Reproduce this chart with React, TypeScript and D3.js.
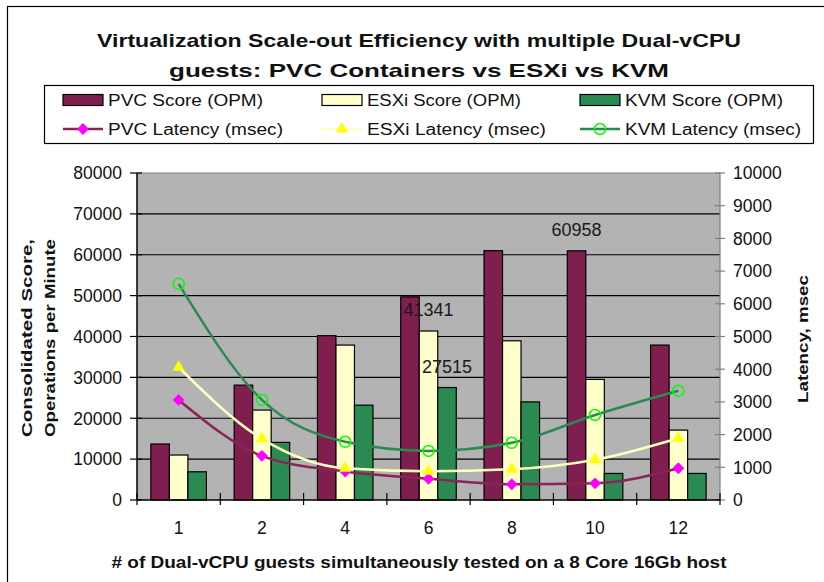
import React from "react"
import * as d3 from "d3"

const width = 824
const height = 582

const margin = { top: 173, right: 104, bottom: 82, left: 137 }

const categories = ["1", "2", "4", "6", "8", "10", "12"]
const pvcScore = [13700, 28100, 40200, 49700, 61000, 60958, 37900]
const esxiScore = [11000, 22000, 37900, 41341, 38950, 29500, 17100]
const kvmScore = [6900, 14100, 23200, 27515, 24000, 6500, 6500]
const pvcLatency = [3060, 1350, 870, 650, 480, 510, 970]
const esxiLatency = [4060, 1870, 970, 880, 940, 1230, 1890]
const kvmLatency = [6610, 3060, 1780, 1500, 1750, 2600, 3340]
const scoreTicks = [0, 10000, 20000, 30000, 40000, 50000, 60000, 70000, 80000]
const latencyTicks = [0, 1000, 2000, 3000, 4000, 5000, 6000, 7000, 8000, 9000, 10000]
// which bars carry a value label: [series index, category]
const labelledBars: [number, string][] = [[1, "6"], [2, "6"], [0, "10"]]

const barSeries = [
  { name: "PVC Score (OPM)", values: pvcScore, fill: "#801f4f" },
  { name: "ESXi Score (OPM)", values: esxiScore, fill: "#ffffcc" },
  { name: "KVM Score (OPM)", values: kvmScore, fill: "#2a8a52" },
]
const lineSeries = [
  { name: "PVC Latency (msec)", values: pvcLatency, stroke: "#8a2458", marker: "diamond" },
  { name: "ESXi Latency (msec)", values: esxiLatency, stroke: "#ffffc0", marker: "triangle" },
  { name: "KVM Latency (msec)", values: kvmLatency, stroke: "#2a8a52", marker: "circle" },
]

const font = "'Liberation Sans', Arial, sans-serif"

function Marker({ type, x, y }: { type: string; x: number; y: number }) {
  if (type === "diamond") {
    const p = d3.symbol(d3.symbolSquare, 70)()
    return <path d={p!} transform={`translate(${x},${y}) rotate(45)`} fill="#ff00ff" />
  }
  if (type === "triangle") {
    const p = d3.symbol(d3.symbolTriangle, 62)()
    return <path d={p!} transform={`translate(${x},${y})`} fill="#ffff00" />
  }
  return <circle cx={x} cy={y} r={5.5} fill="none" stroke="#00ff00" strokeWidth={1.5} />
}

function App() {
  const innerRight = width - margin.right
  const innerBottom = height - margin.bottom

  const xScale = d3.scaleBand().domain(categories).range([margin.left, innerRight])
  const bw = xScale.bandwidth()
  const barW = bw / (3 + 1.5)
  const groupOffset = (bw - barW * 3) / 2

  const yScale = d3.scaleLinear().domain([0, 80000]).range([innerBottom, margin.top])
  const y2Scale = d3.scaleLinear().domain([0, 10000]).range([innerBottom, margin.top])

  const cx = (c: string) => xScale(c)! + bw / 2
  const barX = (c: string, s: number) => xScale(c)! + groupOffset + s * barW

  const boundaries = categories.map(c => xScale(c)!).concat([innerRight])

  const legendCols = [63, 322, 580]
  const legendRows = [100, 129]
  const scoreLen = [155, 154, 158]
  const latLen = [175, 179, 176]

  return (
    <svg width={width} height={height} style={{ position: "absolute", left: 0, top: 0 }} fontFamily={font}>
      <rect x={0} y={0} width={width} height={height} fill="#fff" />
      <rect x={7.5} y={6.5} width={830} height={600} fill="none" stroke="#000" strokeWidth={1.2} />

      {/* title */}
      <text x={419} y={47} textAnchor="middle" fontWeight="bold" fontSize={19} textLength={644} lengthAdjust="spacingAndGlyphs" fill="#111">
        Virtualization Scale-out Efficiency with multiple Dual-vCPU
      </text>
      <text x={419} y={77} textAnchor="middle" fontWeight="bold" fontSize={19} textLength={500} lengthAdjust="spacingAndGlyphs" fill="#111">
        guests: PVC Containers vs ESXi vs KVM
      </text>

      {/* legend */}
      <rect x={44.5} y={85.5} width={769} height={58} fill="#fff" stroke="#000" strokeWidth={1.2} />
      {barSeries.map((s, i) => (
        <g key={s.name}>
          <rect x={legendCols[i]} y={legendRows[0] - 5.5} width={40} height={11} fill={s.fill} stroke="#000" strokeWidth={1.2} />
          <text x={legendCols[i] + 45} y={legendRows[0]} dy="0.36em" fontSize={16} textLength={scoreLen[i]} lengthAdjust="spacingAndGlyphs" fill="#111">
            {s.name}
          </text>
        </g>
      ))}
      {lineSeries.map((s, i) => (
        <g key={s.name}>
          <line x1={legendCols[i]} x2={legendCols[i] + 40} y1={legendRows[1]} y2={legendRows[1]} stroke={s.stroke} strokeWidth={2.5} />
          <Marker type={s.marker} x={legendCols[i] + 20} y={legendRows[1]} />
          <text x={legendCols[i] + 45} y={legendRows[1]} dy="0.36em" fontSize={16} textLength={latLen[i]} lengthAdjust="spacingAndGlyphs" fill="#111">
            {s.name}
          </text>
        </g>
      ))}

      {/* plot area */}
      <rect x={margin.left} y={margin.top} width={innerRight - margin.left} height={innerBottom - margin.top} fill="#b3b3b3" />
      {scoreTicks.slice(1, -1).map(t => (
        <line key={t} x1={margin.left} x2={innerRight} y1={yScale(t)} y2={yScale(t)} stroke="#000" strokeWidth={1.2} />
      ))}
      <line x1={margin.left} x2={innerRight} y1={margin.top} y2={margin.top} stroke="#808080" strokeWidth={1.2} />

      {/* bars */}
      {barSeries.map((s, si) =>
        categories.map((c, ci) => (
          <rect
            key={`${si}-${c}`}
            x={barX(c, si)}
            y={yScale(s.values[ci])}
            width={barW}
            height={innerBottom - yScale(s.values[ci])}
            fill={s.fill}
            stroke="#000"
            strokeWidth={1.2}
          />
        ))
      )}

      {/* latency lines */}
      {lineSeries.map(s => {
        const path = d3.line<number>()
          .x((_, i) => cx(categories[i]))
          .y(d => y2Scale(d))
          .curve(d3.curveMonotoneX)(s.values)
        return (
          <g key={s.name}>
            <path d={path!} fill="none" stroke={s.stroke} strokeWidth={2.5} />
            {s.values.map((v, i) => (
              <Marker key={i} type={s.marker} x={cx(categories[i])} y={y2Scale(v)} />
            ))}
          </g>
        )
      })}

      {/* value labels */}
      {labelledBars.map(([si, c]) => {
        const v = barSeries[si].values[categories.indexOf(c)]
        return (
          <text key={`${si}-${c}`} x={barX(c, si) + barW / 2} y={yScale(v) - 21} dy="0.36em" textAnchor="middle" fontSize={18} fill="#1a1a1a">
            {v}
          </text>
        )
      })}

      {/* left axis */}
      <line x1={margin.left} x2={margin.left} y1={margin.top} y2={innerBottom} stroke="#000" strokeWidth={1.5} />
      {scoreTicks.map(t => (
        <g key={t} transform={`translate(0,${yScale(t)})`}>
          <line x1={margin.left - 7} x2={margin.left + 5} stroke="#000" strokeWidth={1.2} />
          <text x={margin.left - 15} dy="0.36em" textAnchor="end" fontSize={17.5} fill="#111">{t}</text>
        </g>
      ))}

      {/* right axis */}
      <line x1={innerRight} x2={innerRight} y1={margin.top} y2={innerBottom} stroke="#808080" strokeWidth={1.2} />
      {latencyTicks.map(t => (
        <g key={t} transform={`translate(0,${y2Scale(t)})`}>
          <line x1={innerRight - 5} x2={innerRight + 5} stroke="#808080" strokeWidth={1.2} />
          <text x={innerRight + 13} dy="0.36em" fontSize={17.5} fill="#111">{t}</text>
        </g>
      ))}

      {/* x axis */}
      <line x1={margin.left} x2={innerRight} y1={innerBottom} y2={innerBottom} stroke="#000" strokeWidth={1.5} />
      {boundaries.map((b, i) => (
        <line key={i} x1={b} x2={b} y1={innerBottom - 7} y2={innerBottom + 5} stroke="#000" strokeWidth={1.2} />
      ))}
      {categories.map(c => (
        <text key={c} x={cx(c)} y={528} dy="0.36em" textAnchor="middle" fontSize={17.5} fill="#111">{c}</text>
      ))}

      {/* axis titles */}
      <text x={419} y={562} dy="0.36em" textAnchor="middle" fontWeight="bold" fontSize={16} textLength={615} lengthAdjust="spacingAndGlyphs" fill="#111">
        # of Dual-vCPU guests simultaneously tested on a 8 Core 16Gb host
      </text>
      <g transform="translate(27,338) rotate(-90)">
        <text dy="0.36em" textAnchor="middle" fontWeight="bold" fontSize={15} textLength={198} lengthAdjust="spacingAndGlyphs" fill="#111">
          Consolidated Score,
        </text>
      </g>
      <g transform="translate(50,338) rotate(-90)">
        <text dy="0.36em" textAnchor="middle" fontWeight="bold" fontSize={15} textLength={198} lengthAdjust="spacingAndGlyphs" fill="#111">
          Operations per Minute
        </text>
      </g>
      <g transform="translate(803,339) rotate(-90)">
        <text dy="0.36em" textAnchor="middle" fontWeight="bold" fontSize={15} textLength={128} lengthAdjust="spacingAndGlyphs" fill="#111">
          Latency, msec
        </text>
      </g>
    </svg>
  )
}

export default App
